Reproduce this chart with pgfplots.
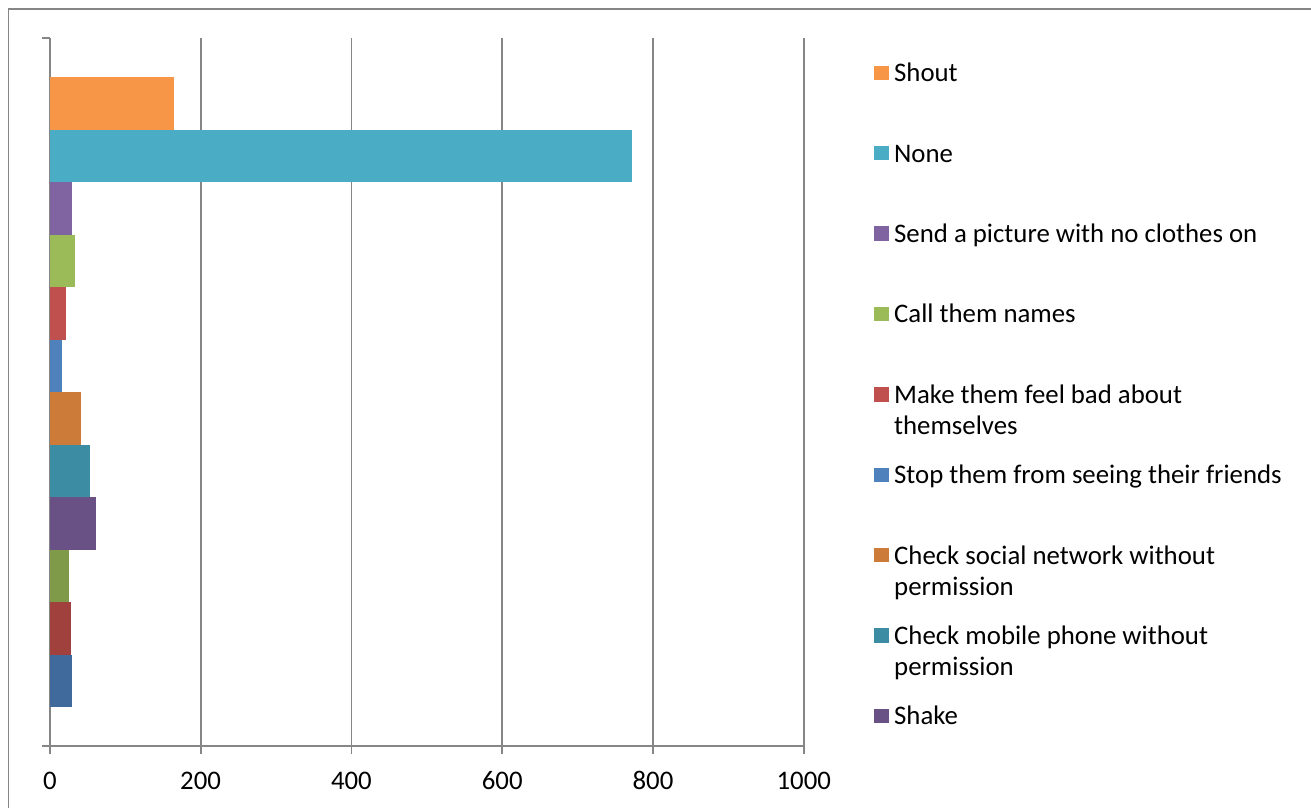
\documentclass[border=0pt]{standalone}
\usepackage{fontspec}
\setmainfont{Carlito}
\usepackage{pgfplots}
\pgfplotsset{compat=1.18}
\definecolor{axisgray}{HTML}{868686}
\definecolor{cShout}{HTML}{F79646}
\definecolor{cNone}{HTML}{4BACC6}
\definecolor{cSend}{HTML}{8064A2}
\definecolor{cCall}{HTML}{9BBB59}
\definecolor{cMake}{HTML}{C0504D}
\definecolor{cStop}{HTML}{4F81BD}
\definecolor{cSocial}{HTML}{CC7B38}
\definecolor{cMobile}{HTML}{3C8DA3}
\definecolor{cShake}{HTML}{695185}
\definecolor{cOlive}{HTML}{7F9A49}
\definecolor{cDRed}{HTML}{A0413E}
\definecolor{cDBlue}{HTML}{416A9C}
\begin{document}
\begin{tikzpicture}
\useasboundingbox (0,0) rectangle (655.5pt,-404pt);
\draw[axisgray, line width=0.9pt] (4.25pt,-4.4pt) rectangle (700pt,-450pt);
\begin{axis}[
  at={(24.9pt,-373pt)}, anchor=south west,
  scale only axis, width=377pt, height=354pt,
  xmin=0, xmax=1000, ymin=-0.243, ymax=13.243,
  axis x line*=bottom, axis y line*=left,
  axis line style={draw=axisgray, line width=0.9pt, -},
  xtick={0,200,...,1000}, ytick={-0.243,13.243}, yticklabels={},
  tick align=outside, major tick length=4pt,
  tick style={draw=axisgray, line width=0.9pt},
  xmajorgrids, grid style={draw=axisgray, line width=0.9pt},
  /pgf/number format/assume math mode=true,
  /pgf/number format/1000 sep={},
  ticklabel style={font=\fontsize{13.4}{15.5}\selectfont},
  xticklabel style={anchor=base, yshift=-17.7pt},
  legend cell align=left,
  legend image code/.code={\fill[#1] (0pt,0.85pt) rectangle (7.5pt,8.1pt);},
  legend style={at={(1.0928,0.9665)}, anchor=north west, draw=none, fill=none,
    inner sep=0pt, outer sep=0pt, row sep=0pt, column sep=2.7pt,
    font=\fontsize{13.4}{15.5}\selectfont,
    nodes={inner sep=0pt, text height=10pt, text depth=30.2pt, anchor=base west}},
]
\addplot[xbar, bar width=1, bar shift=0pt, fill=cShout, draw=none] coordinates {(165,12)};
\addlegendentry{Shout}
\addplot[xbar, bar width=1, bar shift=0pt, fill=cNone, draw=none] coordinates {(772,11)};
\addlegendentry{None}
\addplot[xbar, bar width=1, bar shift=0pt, fill=cSend, draw=none] coordinates {(30,10)};
\addlegendentry{Send a picture with no clothes on}
\addplot[xbar, bar width=1, bar shift=0pt, fill=cCall, draw=none] coordinates {(33,9)};
\addlegendentry{Call them names}
\addplot[xbar, bar width=1, bar shift=0pt, fill=cMake, draw=none] coordinates {(22,8)};
\addlegendentry{\parbox[t]{250pt}{Make them feel bad about\\themselves}}
\addplot[xbar, bar width=1, bar shift=0pt, fill=cStop, draw=none] coordinates {(16,7)};
\addlegendentry{Stop them from seeing their friends}
\addplot[xbar, bar width=1, bar shift=0pt, fill=cSocial, draw=none] coordinates {(42,6)};
\addlegendentry{\parbox[t]{250pt}{Check social network without\\permission}}
\addplot[xbar, bar width=1, bar shift=0pt, fill=cMobile, draw=none] coordinates {(53,5)};
\addlegendentry{\parbox[t]{250pt}{Check mobile phone without\\permission}}
\addplot[xbar, bar width=1, bar shift=0pt, fill=cShake, draw=none] coordinates {(61,4)};
\addlegendentry{Shake}
\addplot[xbar, bar width=1, bar shift=0pt, fill=cOlive, draw=none, forget plot] coordinates {(26,3)};
\addplot[xbar, bar width=1, bar shift=0pt, fill=cDRed, draw=none, forget plot] coordinates {(28,2)};
\addplot[xbar, bar width=1, bar shift=0pt, fill=cDBlue, draw=none, forget plot] coordinates {(29,1)};
\end{axis}
\end{tikzpicture}
\end{document}
